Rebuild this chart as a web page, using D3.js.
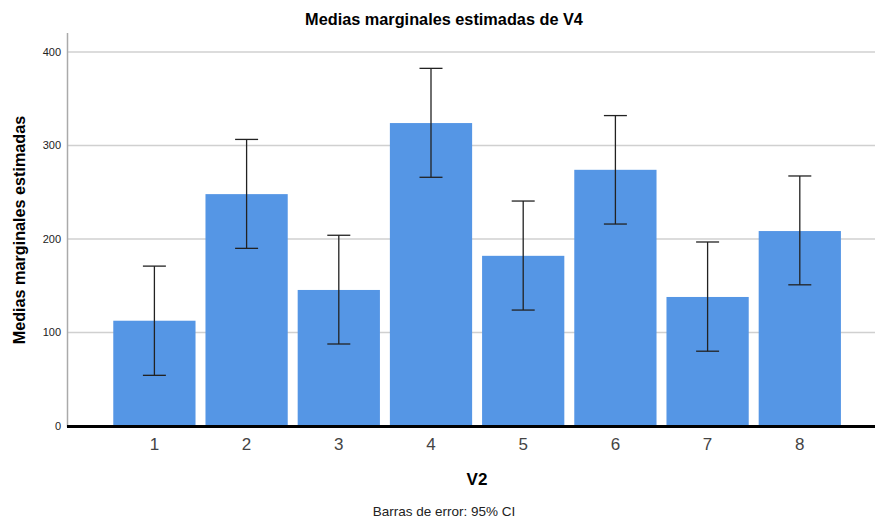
<!DOCTYPE html>
<html><head><meta charset="utf-8">
<script src="https://cdn.jsdelivr.net/npm/d3@7"></script>
<style>body{margin:0;background:#fff;}svg{display:block;font-family:"Liberation Sans",Arial,sans-serif;}</style>
</head><body>
<svg id="c" width="875" height="522"></svg>
<script>
const categories = ["1","2","3","4","5","6","7","8"];
const means = [112.6, 248, 145.5, 324, 182, 274, 138, 208.5];
const lower = [54.2, 190, 87.7, 266, 124, 216, 80, 151];
const upper = [171, 306.5, 204, 382.5, 240.6, 332, 196.8, 267.4];
const yTicks = [0, 100, 200, 300, 400];

const svg = d3.select("#c");
const y = d3.scaleLinear().domain([0, 400]).range([426, 52]);
const x = d3.scaleBand().domain(categories).range([108.3, 845.9]).paddingInner(0.108).paddingOuter(0.054);

// gridlines
svg.append("g").selectAll("line").data(yTicks.filter(d => d > 0)).join("line")
  .attr("x1", 67).attr("x2", 875).attr("y1", d => y(d)).attr("y2", d => y(d))
  .attr("stroke", "#d0d0d0").attr("stroke-width", 1.5);

// y axis line
svg.append("line").attr("x1", 67.5).attr("x2", 67.5).attr("y1", 33).attr("y2", 427)
  .attr("stroke", "#aaaaaa").attr("stroke-width", 1.5);

// y tick labels
svg.append("g").selectAll("text").data(yTicks).join("text")
  .attr("x", 61).attr("y", d => y(d)).attr("dy", "0.35em")
  .attr("text-anchor", "end").attr("font-size", 11).attr("fill", "#222")
  .text(d => d);

// bars
svg.append("g").selectAll("rect").data(means).join("rect")
  .attr("x", (d, i) => x(categories[i])).attr("width", x.bandwidth())
  .attr("y", d => y(d)).attr("height", d => y(0) - y(d))
  .attr("fill", "#5596e5");

// baseline
svg.append("line").attr("x1", 67).attr("x2", 875).attr("y1", 426.5).attr("y2", 426.5)
  .attr("stroke", "#000").attr("stroke-width", 3);

// error bars
const eb = svg.append("g").attr("stroke", "#222").attr("stroke-width", 1.3);
categories.forEach((c, i) => {
  const cx = x(c) + x.bandwidth() / 2;
  eb.append("line").attr("x1", cx).attr("x2", cx).attr("y1", y(upper[i])).attr("y2", y(lower[i]));
  eb.append("line").attr("x1", cx - 11.5).attr("x2", cx + 11.5).attr("y1", y(upper[i])).attr("y2", y(upper[i]));
  eb.append("line").attr("x1", cx - 11.5).attr("x2", cx + 11.5).attr("y1", y(lower[i])).attr("y2", y(lower[i]));
});

// x tick labels
svg.append("g").selectAll("text").data(categories).join("text")
  .attr("x", d => x(d) + x.bandwidth() / 2).attr("y", 449.5)
  .attr("text-anchor", "middle").attr("font-size", 17).attr("fill", "#444")
  .text(d => d);

// title
svg.append("text").attr("x", 444).attr("y", 25).attr("text-anchor", "middle")
  .attr("font-size", 16.3).attr("font-weight", "bold").attr("fill", "#000")
  .text("Medias marginales estimadas de V4");

// y label
svg.append("text").attr("transform", "translate(25,230) rotate(-90)")
  .attr("text-anchor", "middle").attr("font-size", 16.2).attr("font-weight", "bold").attr("fill", "#000")
  .text("Medias marginales estimadas");

// x label
svg.append("text").attr("x", 477).attr("y", 485).attr("text-anchor", "middle")
  .attr("font-size", 17).attr("font-weight", "bold").attr("fill", "#000")
  .text("V2");

// footer
svg.append("text").attr("x", 444).attr("y", 516).attr("text-anchor", "middle")
  .attr("font-size", 13.5).attr("fill", "#222")
  .text("Barras de error: 95% CI");
</script>
</body></html>
